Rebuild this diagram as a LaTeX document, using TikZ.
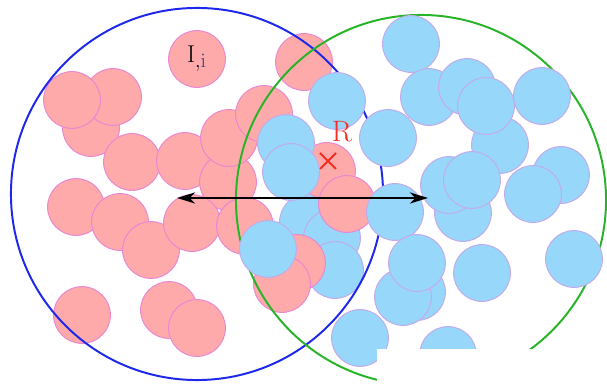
\documentclass[tikz,border=0pt]{standalone}
\usetikzlibrary{positioning, arrows.meta}

\definecolor{pinkfill}{RGB}{255,170,170}
\definecolor{pinkline}{RGB}{232,135,210}
\definecolor{bluefill}{RGB}{150,215,250}
\definecolor{blueline}{RGB}{195,170,235}
\definecolor{ringblue}{RGB}{30,40,235}
\definecolor{ringgreen}{RGB}{40,180,40}
\definecolor{markred}{RGB}{245,45,35}
\definecolor{subblue}{RGB}{60,80,140}

\begin{document}
\begin{tikzpicture}[
  x=0.025cm, y=-0.025cm,
  pdisc/.style={circle, draw=pinkline, fill=pinkfill, line width=0.7pt, minimum size=1.42cm, inner sep=0pt},
  bdisc/.style={circle, draw=blueline, fill=bluefill, line width=0.7pt, minimum size=1.42cm, inner sep=0pt},
  ring/.style={circle, line width=1.4pt, inner sep=0pt},
  rangearrow/.style={{Stealth[length=13pt,width=8pt,inset=4pt]}-{Stealth[length=13pt,width=8pt,inset=4pt]}, line width=1.4pt},
]
\useasboundingbox (0,0) rectangle (607,385);

% blue particles lying under the pink ones
\node[bdisc] (bb1) at (308,222) {};
\node[bdisc] (bb2) at (332,238) {};
\node[bdisc] (bb3) at (335,270) {};

% pink particles
\node[pdisc] (pi) at (197,59) {\fontsize{19}{22}\selectfont$\mathrm{I}_{,\textcolor{subblue}{\mathrm{i}}}$};
\node[pdisc] (p2) at (91,128) {};
\node[pdisc] (p3) at (113,97) {};
\node[pdisc] (p4) at (72,100) {};
\node[pdisc] (p5) at (132,162) {};
\node[pdisc] (p6) at (185,161) {};
\node[pdisc] (p7) at (228,182) {};
\node[pdisc] (p8) at (229,138) {};
\node[pdisc] (p9) at (264,114) {};
\node[pdisc] (p10) at (304,62) {};
\node[pdisc] (p11) at (76,207) {};
\node[pdisc] (p12) at (120,222) {};
\node[pdisc] (p13) at (151,250) {};
\node[pdisc] (p14) at (192,223) {};
\node[pdisc] (p15) at (245,226) {};
\node[pdisc] (p16) at (82,315) {};
\node[pdisc] (p17) at (169,310) {};
\node[pdisc] (p18) at (197,328) {};
\node[pdisc] (pc) at (327,171) {};
\node[pdisc] (p20) at (297,263) {};
\node[pdisc] (p21) at (282,284) {};
\node[pdisc] (p22) at (347,204) {};

% the two ranges
\node[ring, draw=ringblue, minimum size=9.3cm] (rangeL) at (197,194) {};
\node[ring, draw=ringgreen, minimum size=9.25cm] (rangeR) at (421,200) {};

% blue particles
\node[bdisc] (b1) at (411,44) {};
\node[bdisc] (b2) at (429,97) {};
\node[bdisc] (b3) at (467,87) {};
\node[bdisc] (b4) at (500,145) {};
\node[bdisc] (b5) at (486,106) {};
\node[bdisc] (b6) at (542,96) {};
\node[bdisc] (b7) at (337,101) {};
\node[bdisc] (b8) at (388,138) {};
\node[bdisc] (b9) at (286,143) {};
\node[bdisc] (b10) at (291,172) {};
\node[bdisc] (b11) at (463,213) {};
\node[bdisc] (b12) at (449,185) {};
\node[bdisc] (b13) at (472,180) {};
\node[bdisc] (b14) at (561,175) {};
\node[bdisc] (b15) at (533,194) {};
\node[bdisc] (b16) at (395,212) {};
\node[bdisc] (b17) at (268,249) {};
\node[bdisc] (b18) at (417,292) {};
\node[bdisc] (b19) at (403,297) {};
\node[bdisc] (b20) at (417,263) {};
\node[bdisc] (b21) at (482,273) {};
\node[bdisc] (b22) at (574,259) {};
\node[bdisc] (b23) at (360,338) {};
\node[bdisc] (b24) at (448,355) {};

% interaction range
\coordinate (tipL) at (177,198);
\coordinate (tipR) at (428,198);
\draw[rangearrow] (tipL) -- (tipR);

\node[text=markred, inner sep=0pt, font=\fontsize{21}{24}\selectfont] (rlab) at (342,132) {R};
% mark of the centre
\coordinate (mark) at (328,161);
\draw[markred, line width=1.3pt] ([shift={(-8,-8)}]mark) -- ([shift={(8,8)}]mark)
  ([shift={(-8,8)}]mark) -- ([shift={(8,-8)}]mark);

\fill[white] (377,349) rectangle (607,385);
\end{tikzpicture}
\end{document}
